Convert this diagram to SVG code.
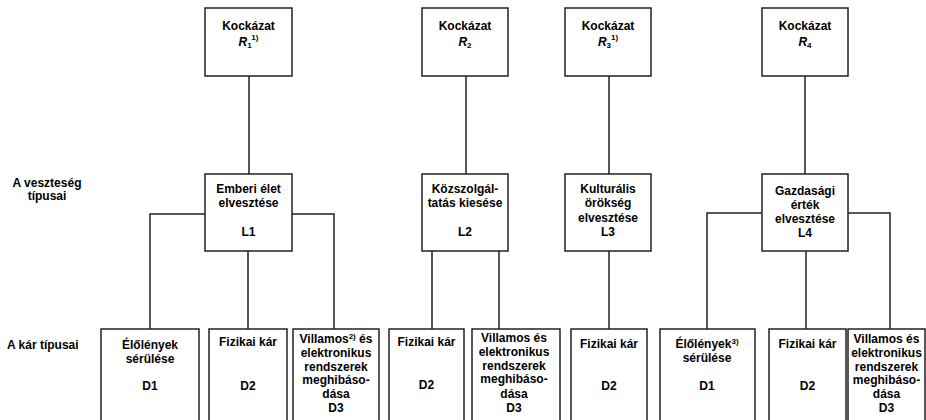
<svg xmlns="http://www.w3.org/2000/svg" width="926" height="420" viewBox="0 0 926 420">
<style>
.b{fill:#fff;stroke:#222;stroke-width:1.5}
.c{fill:none;stroke:#222;stroke-width:1.5}
text{font-family:"Liberation Sans",Arial,sans-serif;font-weight:bold;font-size:12px;fill:#000;text-anchor:middle}
.s{font-size:8px}
.i{font-style:italic}
</style>
<rect width="926" height="420" fill="#fff"/>
<g id="labels">
<text x="47" y="187">A veszteség</text>
<text x="47" y="200">típusai</text>
<text x="7" y="349" style="text-anchor:start">A kár típusai</text>
</g>
<g id="connectors">
<path class="c" d="M249 76V174M466 76V174M609 76V174M805 76V174"/>
<path class="c" d="M205 214H150V329M292 214H334V329M248 251V329"/>
<path class="c" d="M432 251V329M499 251V329"/>
<path class="c" d="M609 251V329"/>
<path class="c" d="M762 213H707V329M848 213H890V329M806 251V329"/>
</g>
<g id="R1"><rect class="b" x="205" y="8" width="87" height="68"/><text x="248.5" y="30">Kockázat</text><text x="248.5" y="46"><tspan class="i">R</tspan><tspan class="s" dy="2">1</tspan><tspan class="s" dy="-8">1)</tspan></text></g>
<g id="R2"><rect class="b" x="422" y="8" width="86" height="68"/><text x="465" y="30">Kockázat</text><text x="465" y="46"><tspan class="i">R</tspan><tspan class="s" dy="2">2</tspan></text></g>
<g id="R3"><rect class="b" x="565" y="8" width="86" height="68"/><text x="608" y="30">Kockázat</text><text x="608" y="46"><tspan class="i">R</tspan><tspan class="s" dy="2">3</tspan><tspan class="s" dy="-8">1)</tspan></text></g>
<g id="R4"><rect class="b" x="762" y="8" width="86" height="68"/><text x="805" y="30">Kockázat</text><text x="805" y="46"><tspan class="i">R</tspan><tspan class="s" dy="2">4</tspan></text></g>
<g id="L1"><rect class="b" x="205" y="174" width="87" height="77"/><text x="248.5" y="193">Emberi élet</text><text x="248.5" y="207">elvesztése</text><text x="248.5" y="236">L1</text></g>
<g id="L2"><rect class="b" x="422" y="174" width="86" height="77"/><text x="465" y="193">Közszolgál-</text><text x="465" y="207">tatás kiesése</text><text x="465" y="236">L2</text></g>
<g id="L3"><rect class="b" x="565" y="174" width="86" height="77"/><text x="608" y="193">Kulturális</text><text x="608" y="207">örökség</text><text x="608" y="222">elvesztése</text><text x="608" y="236">L3</text></g>
<g id="L4"><rect class="b" x="762" y="174" width="86" height="77"/><text x="805" y="195">Gazdasági</text><text x="805" y="209">érték</text><text x="805" y="223">elvesztése</text><text x="805" y="237">L4</text></g>
<g id="L1D1"><rect class="b" x="101" y="329" width="98" height="100"/><text x="150" y="349">Élőlények</text><text x="150" y="363">sérülése</text><text x="150" y="390">D1</text></g>
<g id="L1D2"><rect class="b" x="209" y="329" width="78" height="100"/><text x="248" y="346">Fizikai kár</text><text x="248" y="390">D2</text></g>
<g id="L1D3"><rect class="b" x="293" y="329" width="86" height="100"/><text x="336" y="343">Villamos<tspan class="s" dy="-4">2)</tspan><tspan dy="4"> és</tspan></text><text x="336" y="357">elektronikus</text><text x="336" y="371">rendszerek</text><text x="336" y="384">meghibáso-</text><text x="336" y="398">dása</text><text x="336" y="412">D3</text></g>
<g id="L2D2"><rect class="b" x="389" y="329" width="75" height="100"/><text x="426.5" y="346">Fizikai kár</text><text x="426.5" y="389">D2</text></g>
<g id="L2D3"><rect class="b" x="472" y="329" width="88" height="100"/><text x="514" y="342">Villamos és</text><text x="514" y="356">elektronikus</text><text x="514" y="370">rendszerek</text><text x="514" y="383">meghibáso-</text><text x="514" y="398">dása</text><text x="514" y="412">D3</text></g>
<g id="L3D2"><rect class="b" x="571" y="329" width="76" height="100"/><text x="609" y="348">Fizikai kár</text><text x="609" y="390">D2</text></g>
<g id="L4D1"><rect class="b" x="660" y="329" width="95" height="100"/><text x="707" y="348">Élőlények<tspan class="s" dy="-4">3)</tspan></text><text x="707" y="362">sérülése</text><text x="707" y="390">D1</text></g>
<g id="L4D2"><rect class="b" x="769" y="329" width="77" height="100"/><text x="807.5" y="348">Fizikai kár</text><text x="807.5" y="390">D2</text></g>
<g id="L4D3"><rect class="b" x="848" y="329" width="77" height="100"/><text x="886.5" y="343">Villamos és</text><text x="886.5" y="357">elektronikus</text><text x="886.5" y="371">rendszerek</text><text x="886.5" y="384">meghibáso-</text><text x="886.5" y="398">dása</text><text x="886.5" y="412">D3</text></g>
</svg>
